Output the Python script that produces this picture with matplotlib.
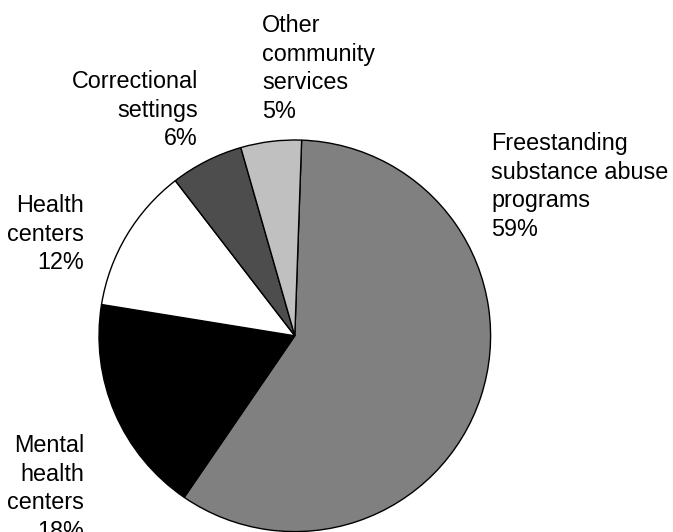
import matplotlib
matplotlib.use("Agg")
import matplotlib.pyplot as plt

plt.rcParams['font.family'] = ['Liberation Sans', 'DejaVu Sans']

labels = ["Freestanding\nsubstance abuse\nprograms\n59%",
          "Mental\nhealth\ncenters\n18%",
          "Health\ncenters\n12%",
          "Correctional\nsettings\n6%",
          "Other\ncommunity\nservices\n5%"]
values = [59, 18, 12, 6, 5]
colors = ["#808080", "#000000", "#ffffff", "#4d4d4d", "#c0c0c0"]

W, H = 673, 532
fig = plt.figure(figsize=(W / 100, H / 100), dpi=100)
ax = fig.add_axes([0, 0, 1, 1])

cx, cy, r = 294.8, H - 335.8, 195.8
ax.pie(values, colors=colors, startangle=88, counterclock=False,
       center=(cx, cy), radius=r, frame=True,
       wedgeprops=dict(edgecolor='black', linewidth=1.0))
ax.set_xlim(0, W)
ax.set_ylim(0, H)
ax.set_aspect('equal')
ax.axis('off')

# label anchor: x, first baseline (pixels from top), alignment
pos = [(491, 150, 'left'), (84, 452, 'right'), (84, 212, 'right'),
       (198, 88, 'right'), (262, 32, 'left')]
line_step = 28.6
for lab, (x, y0, ha) in zip(labels, pos):
    for i, line in enumerate(lab.split("\n")):
        ax.text(x, H - (y0 + i * line_step), line, ha=ha, va='baseline',
                fontsize=16.8, color='black')

fig.savefig("out.png", dpi=100)
